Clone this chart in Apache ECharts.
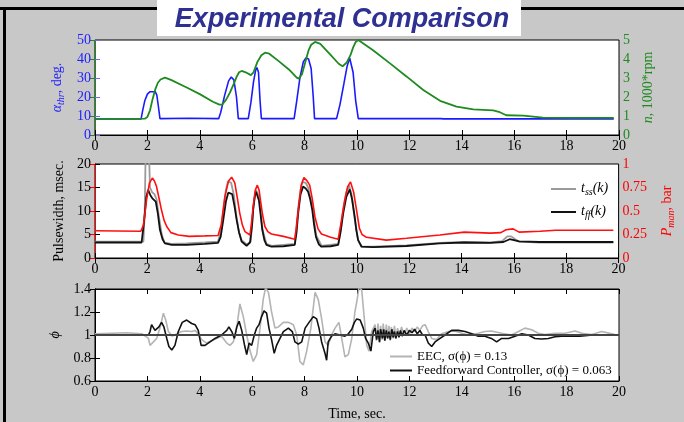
<!DOCTYPE html>
<html>
<head>
<meta charset="utf-8">
<title>Experimental Comparison</title>
<script src="https://cdn.jsdelivr.net/npm/echarts@6/dist/echarts.min.js"></script>
<style>
  html, body { margin: 0; padding: 0; background: #c8c8c8; }
  #main { width: 684px; height: 422px; }
</style>
</head>
<body>
<div id="main"></div>
<script>
// 节气门开度 (deg)
var throttleDeg = [[0,8.5],[1.76,8.5],[1.82,13],[1.9,18],[2.0,21.5],[2.1,22.8],[2.3,22.8],[2.36,21],[2.42,15],[2.48,8.6],[3.6,8.8],[4.72,8.6],[4.8,12],[4.95,21],[5.1,28.5],[5.2,30.5],[5.3,29],[5.4,20],[5.47,8.6],[5.85,8.6],[5.95,17],[6.05,28],[6.13,34],[6.18,35.5],[6.24,33],[6.3,18],[6.35,8.6],[7.6,8.6],[7.7,18],[7.82,30],[7.95,38.5],[8.05,40.5],[8.15,40],[8.25,35],[8.33,20],[8.38,8.6],[9.22,8.6],[9.35,16],[9.5,27],[9.62,36],[9.72,40.5],[9.78,41],[9.85,33],[9.95,18],[10.05,8.6],[13.2,8.6],[13.3,8.5],[19.8,8.5]];
// 发动机转速 (1000 rpm)
var engineSpeed = [[0,0.85],[1.4,0.85],[1.45,0.9],[1.5,0.85],[1.9,0.86],[2.0,0.95],[2.1,1.3],[2.2,1.9],[2.3,2.4],[2.4,2.75],[2.5,2.92],[2.67,3.02],[2.9,2.9],[3.5,2.5],[4.0,2.15],[4.5,1.75],[4.75,1.6],[4.85,1.6],[5.0,1.85],[5.15,2.23],[5.3,2.7],[5.4,3.05],[5.5,3.3],[5.6,3.37],[5.75,3.3],[5.95,3.15],[6.05,3.3],[6.2,3.85],[6.35,4.2],[6.49,4.33],[6.65,4.28],[7.0,3.9],[7.4,3.45],[7.7,3.02],[7.78,2.96],[7.9,3.2],[8.02,3.8],[8.15,4.45],[8.25,4.75],[8.4,4.9],[8.6,4.8],[9.0,4.2],[9.3,3.75],[9.45,3.62],[9.6,3.8],[9.75,4.2],[9.85,4.6],[9.95,4.9],[10.05,5.0],[10.2,4.85],[10.6,4.47],[11.26,3.77],[11.9,3.07],[12.53,2.37],[13.17,1.8],[13.8,1.49],[14.44,1.35],[15.2,1.3],[15.45,1.2],[15.7,1.04],[16.35,1.02],[17.1,0.91],[18.0,0.9],[19.8,0.9]];
// 喷油脉宽 t_ss(k) (msec)
var pulseSS = [[0,3.5],[1.85,3.5],[1.9,10],[1.93,21],[2.07,21],[2.1,15],[2.18,14],[2.27,13.6],[2.35,12.5],[2.45,8.5],[2.55,5],[2.65,3.3],[2.9,3.0],[3.5,3.1],[4.2,3.3],[4.7,3.5],[4.82,6],[4.9,10],[5.0,14.5],[5.08,16.3],[5.2,16],[5.3,13.5],[5.4,9],[5.5,5.5],[5.6,3.8],[5.8,2.9],[5.95,3.5],[6.05,11],[6.15,14.5],[6.27,13],[6.4,6],[6.55,3],[6.75,2.6],[7.63,3],[7.76,10.5],[7.85,14.5],[7.93,16.2],[8.05,16],[8.14,15],[8.3,11],[8.45,4.8],[8.65,2.6],[9.29,3],[9.4,6.5],[9.48,10.5],[9.6,14],[9.7,15.5],[9.8,13.5],[9.9,9],[10.05,3.8],[10.2,2.4],[10.6,2.4],[11.9,2.7],[13.17,3.2],[14.1,3.4],[15.1,3.3],[15.55,3.6],[15.75,4.6],[15.9,4.6],[16.05,4.0],[16.2,3.5],[17,3.3],[19.8,3.3]];
// 喷油脉宽 t_ff(k) (msec)
var pulseFF = [[0,3.3],[1.78,3.3],[1.88,8.1],[1.96,13],[2.03,14.5],[2.12,13.3],[2.19,12.7],[2.32,12],[2.4,9.5],[2.48,6],[2.58,4],[2.67,3.1],[2.93,2.8],[3.5,2.8],[4.2,3.0],[4.7,3.2],[4.8,4.5],[4.9,8.1],[5.0,12],[5.09,13.9],[5.24,13.6],[5.33,11],[5.41,8.1],[5.5,5.5],[5.6,3.5],[5.79,2.6],[5.92,3.3],[6.0,7],[6.04,10.2],[6.1,13],[6.15,14.1],[6.26,12.3],[6.33,9],[6.39,6],[6.47,3.8],[6.55,2.8],[6.74,2.4],[7.2,2.5],[7.63,2.8],[7.7,5.5],[7.76,9.5],[7.85,13.5],[7.95,15.2],[8.05,14.8],[8.14,14.1],[8.22,12.5],[8.3,10.2],[8.37,7],[8.44,4.5],[8.55,2.9],[8.65,2.4],[9.0,2.5],[9.29,2.8],[9.38,5.5],[9.48,9.5],[9.6,13],[9.73,14.6],[9.82,12.5],[9.92,8.8],[9.98,6],[10.05,3.8],[10.18,2.4],[10.62,2.3],[11.9,2.55],[13.17,3.1],[14.1,3.3],[15.1,3.2],[15.6,3.4],[15.84,4.0],[16.2,3.55],[16.98,3.4],[19.8,3.4]];
// 进气歧管压力 (bar)
var manifoldP = [[0,0.29],[1.75,0.285],[1.85,0.35],[1.97,0.62],[2.08,0.8],[2.19,0.85],[2.27,0.82],[2.35,0.76],[2.45,0.63],[2.54,0.51],[2.64,0.4],[2.74,0.335],[2.9,0.27],[3.18,0.245],[3.6,0.23],[4.2,0.235],[4.7,0.24],[4.82,0.35],[4.96,0.65],[5.1,0.82],[5.22,0.86],[5.34,0.8],[5.43,0.65],[5.53,0.475],[5.63,0.35],[5.73,0.28],[5.92,0.245],[5.98,0.38],[6.04,0.545],[6.12,0.72],[6.2,0.775],[6.27,0.72],[6.32,0.615],[6.4,0.46],[6.49,0.335],[6.6,0.28],[6.74,0.255],[7.2,0.23],[7.63,0.2],[7.7,0.34],[7.79,0.58],[7.88,0.78],[7.98,0.855],[8.1,0.82],[8.2,0.775],[8.3,0.63],[8.4,0.44],[8.52,0.31],[8.65,0.255],[9.0,0.22],[9.29,0.2],[9.4,0.38],[9.54,0.615],[9.65,0.76],[9.76,0.81],[9.88,0.7],[9.99,0.51],[10.1,0.315],[10.2,0.25],[10.37,0.22],[11.13,0.19],[11.9,0.21],[13.17,0.245],[14.1,0.275],[15.1,0.265],[15.5,0.27],[15.7,0.3],[15.97,0.31],[16.2,0.275],[17.0,0.285],[17.6,0.295],[19.8,0.295]];
// 当量比 phi: EEC
var phiEEC = [[0,1.01],[1.2,1.02],[1.8,1.01],[2.04,0.97],[2.1,0.91],[2.23,0.94],[2.35,0.97],[2.48,1.06],[2.61,1.19],[2.7,1.13],[2.8,1.03],[2.95,0.99],[3.12,1.01],[3.31,1.03],[3.5,1.035],[3.69,1.03],[3.82,1.04],[3.94,1.01],[4.07,0.96],[4.26,0.93],[4.45,0.95],[4.64,0.97],[4.83,0.99],[5.03,0.93],[5.15,0.91],[5.28,0.94],[5.41,1.06],[5.53,1.27],[5.66,1.16],[5.79,1.0],[5.92,0.86],[6.04,0.77],[6.17,0.83],[6.3,1.06],[6.42,1.31],[6.51,1.41],[6.62,1.37],[6.74,1.2],[6.87,1.06],[7.0,1.07],[7.19,1.11],[7.38,1.11],[7.57,1.09],[7.7,1.0],[7.82,0.77],[7.95,0.74],[8.08,0.86],[8.24,1.06],[8.4,1.37],[8.52,1.31],[8.65,1.14],[8.78,0.94],[8.9,0.91],[9.03,1.0],[9.16,1.06],[9.31,1.11],[9.44,0.94],[9.54,0.81],[9.67,0.83],[9.8,0.97],[9.92,1.2],[10.0,1.3],[10.08,1.42],[10.18,1.39],[10.28,1.14],[10.37,0.91],[10.46,0.86],[10.56,1.03],[10.69,1.09],[10.74,0.95],[10.8,1.1],[10.86,0.93],[10.9,1.08],[10.96,0.96],[11.0,1.1],[11.07,0.95],[11.12,1.09],[11.16,0.97],[11.22,1.08],[11.27,0.95],[11.31,1.07],[11.38,0.97],[11.43,1.08],[11.48,0.98],[11.55,1.06],[11.62,0.99],[11.7,1.07],[11.8,1.0],[11.9,1.06],[12.0,1.01],[12.1,1.06],[12.2,1.03],[12.3,1.07],[12.4,1.04],[12.5,1.08],[12.6,1.09],[12.72,1.03],[12.85,0.97],[13.04,0.96],[13.23,1.01],[13.49,1.03],[13.74,1.035],[14.0,1.015],[14.25,1.0],[14.63,1.015],[14.88,1.03],[15.13,1.035],[15.52,1.015],[15.9,1.0],[16.16,1.03],[16.41,1.06],[16.67,1.045],[16.92,1.015],[17.17,1.005],[17.56,1.015],[17.94,1.015],[18.32,1.035],[18.58,1.015],[18.96,1.005],[19.34,1.03],[19.73,1.01],[19.9,1.0]];
// 当量比 phi: Feedforward
var phiFF = [[0,1.0],[2.04,1.0],[2.1,1.03],[2.16,1.09],[2.23,1.1],[2.29,1.04],[2.35,1.03],[2.44,1.07],[2.54,1.11],[2.63,1.07],[2.74,0.97],[2.82,0.9],[2.93,0.87],[3.05,0.91],[3.18,1.03],[3.33,1.11],[3.5,1.13],[3.69,1.1],[3.82,1.09],[3.94,1.04],[4.05,0.91],[4.2,0.91],[4.39,0.94],[4.58,0.97],[4.83,1.0],[5.03,1.04],[5.11,1.07],[5.22,1.03],[5.32,0.97],[5.41,1.07],[5.5,1.12],[5.6,1.04],[5.7,0.92],[5.79,0.83],[5.88,0.93],[5.98,0.91],[6.08,1.0],[6.17,1.06],[6.26,1.09],[6.36,1.16],[6.45,1.21],[6.55,1.19],[6.64,1.06],[6.74,0.96],[6.84,0.84],[6.93,0.91],[7.06,0.97],[7.19,1.03],[7.38,1.06],[7.53,1.03],[7.63,0.94],[7.76,0.92],[7.89,0.94],[8.02,1.06],[8.17,1.11],[8.33,1.16],[8.46,1.14],[8.55,1.06],[8.65,0.94],[8.78,0.84],[8.84,0.78],[8.9,0.94],[9.03,0.99],[9.16,1.01],[9.35,1.0],[9.54,0.99],[9.67,1.01],[9.8,1.05],[9.9,1.11],[9.99,1.14],[10.12,1.13],[10.24,1.06],[10.33,0.97],[10.43,0.93],[10.53,0.86],[10.62,1.03],[10.69,1.06],[10.75,0.96],[10.8,1.04],[10.86,0.94],[10.9,1.05],[10.97,0.97],[11.02,1.05],[11.06,0.95],[11.12,1.04],[11.17,0.97],[11.22,1.03],[11.27,0.96],[11.33,1.05],[11.38,0.98],[11.43,1.03],[11.48,0.97],[11.55,1.03],[11.6,0.98],[11.66,1.04],[11.72,0.99],[11.8,1.04],[11.9,1.0],[12.0,1.04],[12.1,1.02],[12.2,1.05],[12.3,1.01],[12.4,1.04],[12.5,1.0],[12.6,1.0],[12.72,0.93],[12.85,0.9],[12.98,0.94],[13.17,0.97],[13.36,1.0],[13.61,1.04],[13.87,1.04],[14.12,1.03],[14.38,1.01],[14.63,0.99],[14.88,0.99],[15.13,0.97],[15.33,0.94],[15.52,0.97],[15.78,0.97],[16.03,0.99],[16.29,1.01],[16.54,1.0],[16.79,0.97],[17.05,0.965],[17.3,0.97],[17.56,0.985],[17.81,0.99],[18.5,0.99],[19.0,1.0],[19.85,1.0]];

var SERIF = '"Liberation Serif", "DejaVu Serif", serif';
var FS = 14;

// 公共x轴
function xAxisOf(grid, top, withName) {
  return {
    type: "value",
    gridIndex: grid,
    position: top ? "top" : "bottom",
    min: 0,
    max: 20,
    interval: 2,
    name: withName ? "Time, sec." : "",
    nameLocation: "middle",
    nameGap: 26,
    nameTextStyle: { fontFamily: SERIF, fontSize: FS, color: "#000" },
    axisLine: { show: true, lineStyle: { color: "#000", width: 1 } },
    axisTick: { show: true, inside: true, length: 5, lineStyle: { color: "#000" } },
    axisLabel: { show: !top, fontFamily: SERIF, fontSize: FS, color: "#000", margin: 4 },
    splitLine: { show: false },
  };
}

function yAxisOf(opt) {
  return {
    type: "value",
    gridIndex: opt.grid,
    position: opt.pos,
    min: opt.min,
    max: opt.max,
    interval: opt.step,
    name: opt.name || "",
    nameLocation: "middle",
    nameRotate: 90,
    nameGap: opt.gap || 30,
    nameTextStyle: { fontFamily: SERIF, fontSize: FS, color: opt.color, rich: opt.rich || {} },
    axisLine: { show: true, lineStyle: { color: opt.lineColor || opt.color, width: 1 } },
    axisTick: { show: true, inside: true, length: 5, lineStyle: { color: opt.lineColor || opt.color } },
    axisLabel: {
      show: opt.label !== false,
      fontFamily: SERIF,
      fontSize: FS,
      color: opt.color,
      margin: 4,
      formatter: function (v) { return String(+v.toFixed(2)); },
    },
    splitLine: { show: false },
  };
}

function subRich(color) {
  return {
    m: { fontFamily: SERIF, fontSize: FS, color: color, lineHeight: 16, verticalAlign: "top" },
    i: { fontFamily: SERIF, fontSize: FS, fontStyle: "italic", color: color, lineHeight: 16, verticalAlign: "top" },
    s: { fontFamily: SERIF, fontSize: 10, fontStyle: "italic", color: color, lineHeight: 10, verticalAlign: "bottom", padding: [8, 0, 0, 0] },
  };
}

function lineSeries(name, data, xi, yi, color, width, z) {
  return {
    name: name,
    type: "line",
    data: data,
    xAxisIndex: xi,
    yAxisIndex: yi,
    symbol: "none",
    showSymbol: false,
    clip: true,
    z: z || 2,
    lineStyle: { color: color, width: width },
    itemStyle: { color: color },
    animation: false,
  };
}

var legendNames = {
  tss: "{i|t}{s|ss}{i|(k)}",
  tff: "{i|t}{s|ff}{i|(k)}",
  EEC: "EEC, σ(ϕ) = 0.13",
  FF: "Feedforward Controller, σ(ϕ) = 0.063",
};

var chart = echarts.init(document.getElementById("main"));
var option = {
  backgroundColor: "#c8c8c8",
  animation: false,
  title: {
    text: "Experimental Comparison",
    left: "center",
    top: 1,
    textStyle: {
      fontFamily: '"Liberation Sans", Arial, sans-serif',
      fontSize: 27,
      fontStyle: "italic",
      fontWeight: "bold",
      color: "#2e3192",
    },
  },
  graphic: [
    // 外框
    { type: "rect", z: -10, shape: { x: 0, y: 7, width: 684, height: 3 }, style: { fill: "#000" } },
    { type: "rect", z: -10, shape: { x: 3, y: 7, width: 3, height: 415 }, style: { fill: "#000" } },
    { type: "rect", z: -5, shape: { x: 157, y: 0, width: 364, height: 36 }, style: { fill: "#fff" } },
  ],
  grid: [
    { left: 95, right: 65, top: 40, height: 95, show: true, backgroundColor: "#fff", borderColor: "#000", borderWidth: 1 },
    { left: 95, right: 65, top: 164, height: 94, show: true, backgroundColor: "#fff", borderColor: "#000", borderWidth: 1 },
    { left: 95, right: 65, top: 289, height: 92, show: true, backgroundColor: "#fff", borderColor: "#000", borderWidth: 1 },
  ],
  xAxis: [
    xAxisOf(0, false), xAxisOf(0, true),
    xAxisOf(1, false), xAxisOf(1, true),
    xAxisOf(2, false, true), xAxisOf(2, true),
  ],
  yAxis: [
    yAxisOf({ grid: 0, pos: "left", min: 0, max: 50, step: 10, color: "#2020ff", lineColor: "#6a6aff",
      name: "{i|α}{s|thr}{m|, deg.}", rich: subRich("#2020ff"), gap: 28 }),
    yAxisOf({ grid: 0, pos: "right", min: 0, max: 5, step: 1, color: "#1f8a1f",
      name: "{i|n}{m|, 1000*rpm}", rich: subRich("#1f8a1f"), gap: 18 }),
    yAxisOf({ grid: 1, pos: "left", min: 0, max: 20, step: 5, color: "#000",
      name: "Pulsewidth, msec.", gap: 24 }),
    yAxisOf({ grid: 1, pos: "right", min: 0, max: 1, step: 0.25, color: "#ff0000",
      name: "{i|P}{s|man}{m|, bar}", rich: subRich("#ff0000"), gap: 34 }),
    yAxisOf({ grid: 2, pos: "left", min: 0.6, max: 1.4, step: 0.2, color: "#000",
      name: "{i|ϕ}", rich: subRich("#000"), gap: 30 }),
    yAxisOf({ grid: 2, pos: "right", min: 0.6, max: 1.4, step: 0.2, color: "#000", label: false }),
  ],
  legend: [
    {
      data: ["tss", "tff"],
      orient: "vertical",
      left: 546,
      top: 174,
      icon: "rect",
      itemWidth: 25,
      itemHeight: 2,
      itemGap: 5,
      formatter: function (name) { return legendNames[name]; },
      textStyle: { fontFamily: SERIF, fontSize: FS, color: "#000", rich: subRich("#000") },
    },
    {
      data: ["EEC", "FF"],
      orient: "vertical",
      left: 385,
      top: 345,
      icon: "rect",
      itemWidth: 22,
      itemHeight: 2,
      itemGap: 1,
      formatter: function (name) { return legendNames[name]; },
      textStyle: { fontFamily: SERIF, fontSize: 13, color: "#000" },
    },
  ],
  series: [
    lineSeries("throttle", throttleDeg, 0, 0, "#1a1aff", 1.6, 3),
    lineSeries("speed", engineSpeed, 0, 1, "#1f8a1f", 1.8, 4),
    lineSeries("tss", pulseSS, 2, 2, "#9a9a9a", 1.8, 2),
    lineSeries("tff", pulseFF, 2, 2, "#111", 1.8, 3),
    lineSeries("pman", manifoldP, 2, 3, "#ff1010", 1.6, 4),
    Object.assign(lineSeries("EEC", phiEEC, 4, 4, "#b4b4b4", 1.6, 2), {
      markLine: {
        silent: true,
        symbol: "none",
        label: { show: false },
        lineStyle: { color: "#444", width: 2, type: "solid" },
        data: [{ yAxis: 1 }],
      },
    }),
    lineSeries("FF", phiFF, 4, 4, "#111", 1.6, 4),
  ],
};
chart.setOption(option);
</script>
</body>
</html>
